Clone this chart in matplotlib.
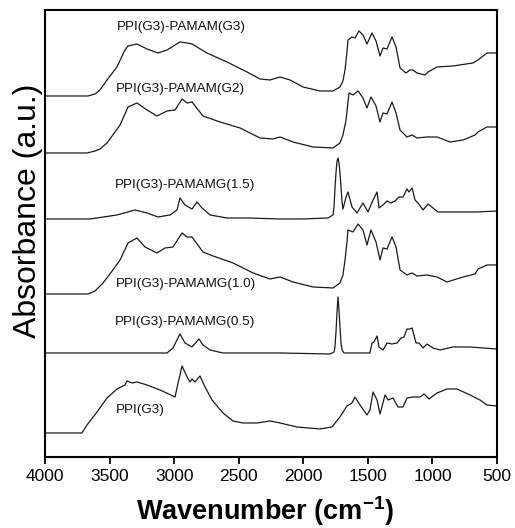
import matplotlib
matplotlib.use('Agg')
import matplotlib.pyplot as plt

# FTIR spectra, stacked with offsets already included
# wavenumber (cm-1) and absorbance (a.u.)
wn_g3 = [4000, 3667, 3613, 3574, 3520, 3443, 3381, 3357, 3288, 3210, 3125,
         3055, 2955, 2900, 2862, 2746, 2591, 2436, 2335, 2258, 2180, 2103,
         2002, 1871, 1770, 1716, 1693, 1677, 1662, 1654, 1623, 1600, 1569,
         1538, 1507, 1468, 1437, 1406, 1383, 1352, 1313, 1282, 1251, 1205,
         1174, 1151, 1120, 1058, 1034, 965, 841, 686, 647, 578, 500]
abs_g3 = [3.61, 3.61, 3.63, 3.67, 3.77, 3.90, 4.07, 4.11, 4.13, 4.08, 4.04,
          4.07, 4.15, 4.14, 4.13, 4.04, 3.95, 3.85, 3.78, 3.77, 3.80, 3.77,
          3.70, 3.66, 3.66, 3.70, 3.76, 3.87, 4.05, 4.17, 4.20, 4.19, 4.26,
          4.22, 4.13, 4.24, 4.16, 4.01, 4.09, 4.08, 4.20, 4.10, 3.89, 3.84,
          3.87, 3.87, 3.84, 3.82, 3.85, 3.90, 3.91, 3.94, 3.97, 4.04, 4.04]

wn_g2 = [4000, 3675, 3613, 3574, 3520, 3419, 3357, 3288, 3210, 3133, 3055,
         2993, 2939, 2900, 2862, 2777, 2645, 2490, 2335, 2235, 2180, 2080,
         1925, 1770, 1716, 1693, 1669, 1654, 1646, 1615, 1576, 1538, 1507,
         1476, 1437, 1406, 1383, 1352, 1313, 1282, 1251, 1197, 1158, 1120,
         1042, 965, 864, 763, 670, 647, 578, 500]
abs_g2 = [3.04, 3.04, 3.06, 3.08, 3.14, 3.32, 3.50, 3.54, 3.47, 3.41, 3.46,
          3.47, 3.58, 3.54, 3.55, 3.41, 3.35, 3.29, 3.19, 3.18, 3.20, 3.15,
          3.10, 3.09, 3.14, 3.22, 3.37, 3.55, 3.64, 3.62, 3.66, 3.59, 3.49,
          3.60, 3.51, 3.35, 3.44, 3.43, 3.55, 3.44, 3.27, 3.20, 3.22, 3.19,
          3.20, 3.20, 3.15, 3.17, 3.22, 3.25, 3.30, 3.30]

wn_15 = [4000, 3652, 3443, 3303, 3210, 3125, 3032, 2978, 2955, 2916, 2862,
         2823, 2784, 2722, 2591, 2436, 2180, 2002, 1809, 1770, 1762, 1755,
         1747, 1739, 1731, 1724, 1716, 1708, 1700, 1693, 1669, 1654, 1623,
         1584, 1538, 1499, 1460, 1429, 1414, 1383, 1352, 1321, 1290, 1259,
         1228, 1197, 1182, 1158, 1135, 1112, 1073, 1034, 996, 957, 864,
         655, 500]
abs_15 = [2.38, 2.38, 2.42, 2.47, 2.44, 2.40, 2.42, 2.47, 2.59, 2.52, 2.48,
          2.55, 2.49, 2.42, 2.39, 2.39, 2.38, 2.38, 2.39, 2.42, 2.50, 2.68,
          2.84, 2.96, 2.99, 2.94, 2.84, 2.70, 2.55, 2.48, 2.60, 2.65, 2.50,
          2.44, 2.54, 2.45, 2.57, 2.65, 2.49, 2.52, 2.56, 2.54, 2.56, 2.60,
          2.60, 2.68, 2.65, 2.69, 2.57, 2.54, 2.47, 2.53, 2.49, 2.45, 2.45,
          2.45, 2.46]

wn_10 = [4000, 3667, 3613, 3551, 3480, 3419, 3357, 3288, 3226, 3133, 3071,
         3009, 2939, 2900, 2862, 2777, 2699, 2544, 2389, 2258, 2180, 2080,
         1925, 1770, 1716, 1693, 1677, 1662, 1654, 1615, 1576, 1538, 1507,
         1476, 1437, 1406, 1383, 1352, 1313, 1282, 1251, 1197, 1158, 1120,
         1042, 965, 887, 763, 670, 647, 578, 500]
abs_10 = [1.63, 1.63, 1.66, 1.74, 1.86, 1.97, 2.14, 2.19, 2.10, 2.04, 2.09,
          2.10, 2.24, 2.20, 2.20, 2.05, 2.01, 1.94, 1.84, 1.78, 1.80, 1.75,
          1.70, 1.69, 1.74, 1.82, 1.97, 2.15, 2.27, 2.25, 2.33, 2.27, 2.12,
          2.27, 2.15, 1.97, 2.09, 2.08, 2.20, 2.10, 1.87, 1.82, 1.84, 1.81,
          1.82, 1.80, 1.75, 1.80, 1.83, 1.88, 1.92, 1.92]

wn_05 = [4000, 3055, 3009, 2955, 2916, 2862, 2808, 2777, 2722, 2622, 2180,
         1793, 1762, 1755, 1747, 1739, 1731, 1724, 1716, 1708, 1700, 1685,
         1484, 1468, 1453, 1429, 1414, 1383, 1352, 1313, 1274, 1243, 1220,
         1197, 1174, 1158, 1127, 1104, 1073, 1042, 996, 942, 841, 709,
         609, 500]
abs_05 = [1.04, 1.04, 1.09, 1.23, 1.14, 1.10, 1.18, 1.12, 1.07, 1.04, 1.04,
          1.03, 1.05, 1.10, 1.25, 1.45, 1.60, 1.47, 1.30, 1.14, 1.07, 1.04,
          1.04, 1.14, 1.15, 1.21, 1.10, 1.07, 1.14, 1.13, 1.14, 1.19, 1.20,
          1.28, 1.28, 1.29, 1.14, 1.14, 1.09, 1.13, 1.09, 1.07, 1.10, 1.10,
          1.09, 1.08]

wn_ppi = [4000, 3714, 3675, 3597, 3520, 3443, 3381, 3365, 3326, 3288, 3210,
          3110, 2993, 2970, 2939, 2900, 2877, 2862, 2839, 2800, 2761, 2707,
          2622, 2544, 2467, 2358, 2258, 2180, 2049, 1871, 1778, 1716, 1662,
          1623, 1600, 1561, 1507, 1484, 1460, 1429, 1406, 1367, 1344, 1305,
          1267, 1228, 1197, 1151, 1096, 1065, 1027, 965, 887, 810, 709,
          632, 578, 500]
abs_ppi = [0.24, 0.24, 0.32, 0.45, 0.59, 0.68, 0.72, 0.76, 0.74, 0.75, 0.72,
           0.67, 0.60, 0.74, 0.91, 0.80, 0.75, 0.78, 0.75, 0.81, 0.70, 0.57,
           0.44, 0.36, 0.34, 0.34, 0.36, 0.34, 0.30, 0.28, 0.30, 0.40, 0.51,
           0.54, 0.60, 0.52, 0.42, 0.47, 0.65, 0.57, 0.43, 0.62, 0.57, 0.59,
           0.50, 0.50, 0.59, 0.60, 0.60, 0.63, 0.58, 0.64, 0.68, 0.68, 0.62,
           0.57, 0.52, 0.51]

labels = ['PPI(G3)-PAMAM(G3)', 'PPI(G3)-PAMAM(G2)', 'PPI(G3)-PAMAMG(1.5)',
          'PPI(G3)-PAMAMG(1.0)', 'PPI(G3)-PAMAMG(0.5)', 'PPI(G3)']
label_x = [2947, 2955, 2916, 2908, 2916, 3264]
label_y = [4.30, 3.68, 2.72, 1.73, 1.35, 0.47]

plt.rcParams['font.family'] = ['Liberation Sans', 'DejaVu Sans']
plt.rcParams['mathtext.fontset'] = 'custom'
plt.rcParams['mathtext.rm'] = 'Liberation Sans'
plt.rcParams['mathtext.bf'] = 'Liberation Sans:bold'

fig = plt.figure(figsize=(5.15, 5.28), dpi=100)
ax = fig.add_axes([0.0874, 0.1345, 0.8777, 0.8466])

for wn, ab in [(wn_g3, abs_g3), (wn_g2, abs_g2), (wn_15, abs_15),
               (wn_10, abs_10), (wn_05, abs_05), (wn_ppi, abs_ppi)]:
    ax.plot(wn, ab, color='#1a1a1a', lw=0.9)

for lab, tx, ty in zip(labels, label_x, label_y):
    ax.text(tx, ty, lab, ha='center', va='center', fontsize=9.7, color='#111')

ax.set_xlim(4000, 500)
ax.set_ylim(0, 4.47)
ax.set_xticks([4000, 3500, 3000, 2500, 2000, 1500, 1000, 500])
ax.set_yticks([])
ax.tick_params(axis='x', direction='out', length=5, width=1.3,
               labelsize=12.5, pad=4)
for sp in ax.spines.values():
    sp.set_linewidth(1.5)

ax.set_ylabel('Absorbance (a.u.)', fontsize=23, va='center')
ax.yaxis.set_label_coords(-0.038, 0.55)
ax.set_xlabel('Wavenumber (cm$^{\\mathbf{-1}}$)', fontsize=19.5,
              fontweight='bold', va='center')
ax.xaxis.set_label_coords(0.487, -0.122)

fig.savefig('out.png', dpi=100)
